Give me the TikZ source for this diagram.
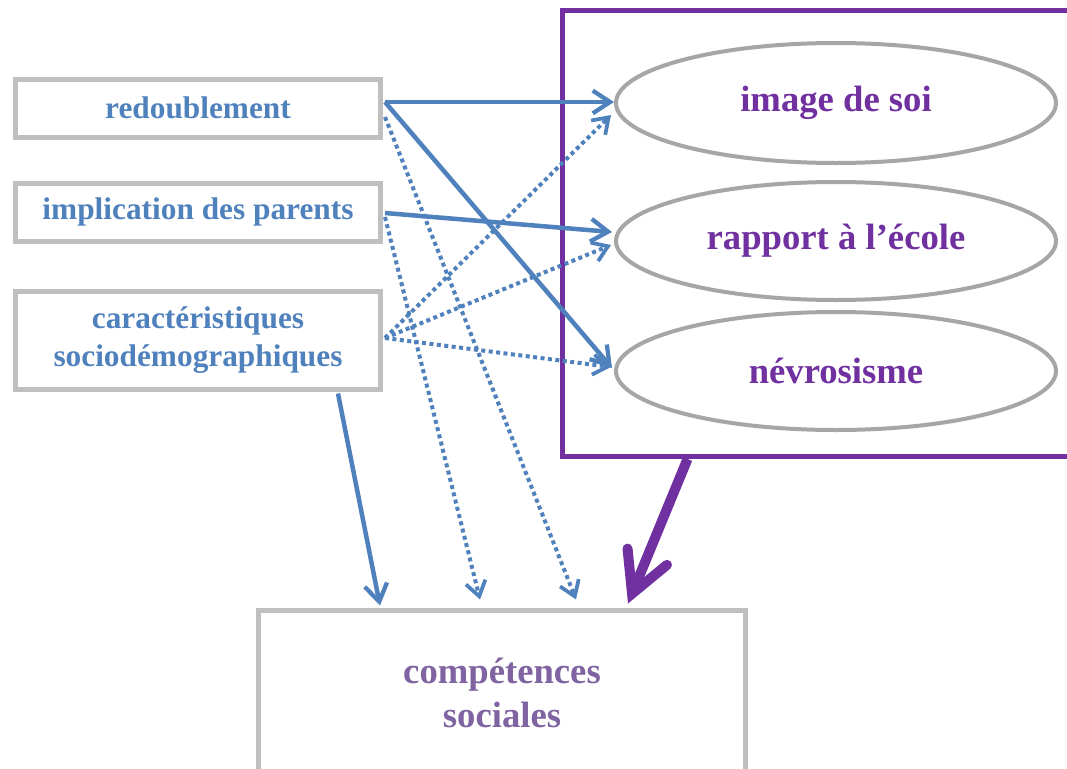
\documentclass[tikz,border=0pt]{standalone}
\usepackage{fontspec}
\setmainfont{Liberation Serif}
\usetikzlibrary{arrows.meta,shapes.geometric,calc}
\definecolor{boxgray}{HTML}{BFBFBF}
\definecolor{ellgray}{HTML}{A6A6A6}
\definecolor{myblue}{HTML}{4F81BD}
\definecolor{mypurple}{HTML}{7030A0}
\definecolor{lightpurple}{HTML}{8064A2}
\tikzset{
  srcbox/.style={draw=boxgray, line width=5*0.75pt, fill=white, minimum width=365*0.75pt,
    inner sep=0pt, align=center, font=\fontsize{23.5}{28}\selectfont\bfseries, text=myblue},
  medell/.style={ellipse, draw=ellgray, line width=4*0.75pt, fill=white, minimum width=440*0.75pt,
    minimum height=118*0.75pt, inner sep=0pt, font=\fontsize{27.5}{32}\selectfont\bfseries, text=mypurple},
  solidarr/.style={draw=myblue, line width=4.5*0.75pt, -{Straight Barb[length=13pt,width=17pt,line width=3.2pt]}},
  dotarr/.style={draw=myblue, line width=4*0.75pt, dash pattern=on 3pt off 2.6pt,
    -{Straight Barb[length=11pt,width=15pt,line width=2.8pt]}},
  bigarr/.style={draw=mypurple, line width=10*0.75pt, -{Straight Barb[length=30pt,width=32pt,line width=7.5pt, line cap=round]}}
}
\begin{document}
\begin{tikzpicture}[x=0.75pt,y=-0.75pt]
\useasboundingbox (0,0) rectangle (1067,768);
\clip (0,0) rectangle (1067,768);
\fill[white] (0,0) rectangle (1067,768);
% purple frame
\node[draw=mypurple, line width=5*0.75pt, minimum width=520*0.75pt, minimum height=446*0.75pt, inner sep=0pt] (frame) at (822,233.5) {};
% source boxes
\node[srcbox, minimum height=58*0.75pt] (r) at (198,108) {redoublement};
\node[srcbox, minimum height=58*0.75pt] (i) at (198,212) {implication des parents};
\node[srcbox, minimum height=98*0.75pt] (c) at (198,340) {caractéristiques\\sociodémographiques};
% ellipses
\node[medell, minimum height=120*0.75pt] (img) at (836,103) {image de soi};
\node[medell] (rap) at (836,241) {rapport à l’école};
\node[medell] (nev) at (836,371) {névrosisme};
% outcome box
\node[draw=boxgray, line width=5*0.75pt, fill=white, minimum width=487*0.75pt, minimum height=166*0.75pt,
  inner sep=0pt, align=center, font=\fontsize{27.5}{33}\selectfont\bfseries, text=lightpurple] (comp) at (502,693)
  {compétences\\sociales};
% solid arrows
\draw[solidarr] ($(r.east)+(2,-6)$) -- ($(img.west)+(0,-1)$);
\draw[solidarr] ($(r.east)+(2,-6)$) -- ($(nev.west)+(-2,-3)$);
\draw[solidarr] ($(i.east)+(2,1)$) -- ($(rap.west)+(-2,-9)$);
\draw[solidarr] ($(c.south east)+(-45,2)$) -- ($(comp.north west)+(124,-2)$);
% dotted arrows
\draw[dotarr] ($(r.east)+(2,9)$) -- ($(comp.north west)+(320,-8)$);
\draw[dotarr] ($(i.east)+(2,5)$) -- ($(comp.north west)+(224,-8)$);
\draw[dotarr] ($(c.east)+(2,-2)$) -- ($(img.west)+(-3,12)$);
\draw[dotarr] ($(c.east)+(2,-2)$) -- ($(rap.west)+(-3,4)$);
\draw[dotarr] ($(c.east)+(2,-2)$) -- ($(nev.west)+(-3,-4)$);
% big purple arrow
\draw[bigarr] ($(frame.south west)+(128,0)$) -- ($(comp.north west)+(372,-4)$);
\end{tikzpicture}
\end{document}
